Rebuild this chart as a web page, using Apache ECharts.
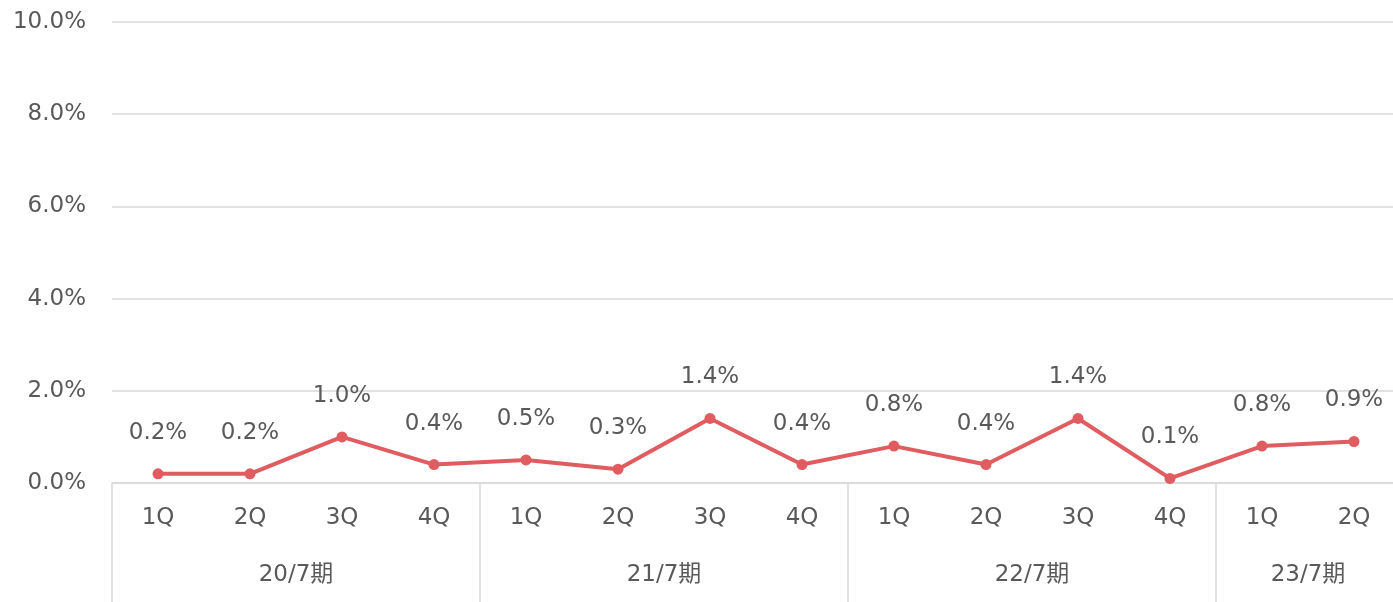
<!DOCTYPE html>
<html>
<head>
<meta charset="utf-8">
<script src="https://cdn.jsdelivr.net/npm/echarts@6/dist/echarts.min.js"></script>
<style>
html, body { margin: 0; padding: 0; background: #fff; }
#chart { width: 1393px; height: 602px; }
</style>
</head>
<body>
<div id="chart"></div>
<script>
// 四半期ラベルと期
const quarters = ['1Q', '2Q', '3Q', '4Q', '1Q', '2Q', '3Q', '4Q', '1Q', '2Q', '3Q', '4Q', '1Q', '2Q']
const periods = ['20/7期', '21/7期', '22/7期', '23/7期']
const periodStart = [0, 4, 8, 12] // 期の区切り位置
const periodCenter = [2, 6, 10, 13] // 期ラベルの位置
const rates = [0.2, 0.2, 1.0, 0.4, 0.5, 0.3, 1.4, 0.4, 0.8, 0.4, 1.4, 0.1, 0.8, 0.9]
const yTicks = [0, 2, 4, 6, 8, 10]

const font = '"DejaVu Sans", "Noto Sans CJK JP", sans-serif'
const fontSize = 23
const textColor = '#595959'
const lineGray = '#d9d9d9'

let chart = echarts.init(document.getElementById('chart'))
let option = {
    animation: false,
    grid: { left: 112, width: 1288, top: 22, bottom: 119, outerBoundsMode: 'none' },
    xAxis: [
        {
            type: 'category',
            data: quarters,
            boundaryGap: true,
            axisLine: { show: true, lineStyle: { color: lineGray, width: 1.5 } },
            axisTick: { show: false },
            axisLabel: { color: textColor, fontSize: fontSize, fontFamily: font, margin: 24 }
        },
        {
            type: 'value',
            position: 'bottom',
            min: 0,
            max: quarters.length,
            axisLine: { show: false },
            splitLine: { show: false },
            axisTick: {
                show: true,
                customValues: periodStart,
                length: 120,
                lineStyle: { color: lineGray, width: 1.5 }
            },
            axisLabel: {
                customValues: periodCenter,
                color: textColor,
                fontSize: fontSize,
                fontFamily: font,
                margin: 81,
                formatter: function (v) {
                    return periods[periodCenter.indexOf(v)]
                }
            }
        }
    ],
    yAxis: {
        type: 'value',
        min: yTicks[0],
        max: yTicks[yTicks.length - 1],
        interval: 2,
        axisLine: { show: false },
        axisTick: { show: false },
        splitLine: { lineStyle: { color: lineGray, width: 1.5 } },
        axisLabel: {
            color: textColor,
            fontSize: fontSize,
            fontFamily: font,
            margin: 26,
            formatter: function (v) { return v.toFixed(1) + '%' }
        }
    },
    series: [
        {
            type: 'line',
            data: rates,
            symbol: 'circle',
            symbolSize: 11,
            lineStyle: { color: '#e05c60', width: 4 },
            itemStyle: { color: '#e05c60' },
            label: {
                show: true,
                position: 'top',
                distance: 24,
                color: textColor,
                fontSize: fontSize,
                fontFamily: font,
                formatter: function (p) { return p.value.toFixed(1) + '%' }
            }
        }
    ]
}
chart.setOption(option)
</script>
</body>
</html>
